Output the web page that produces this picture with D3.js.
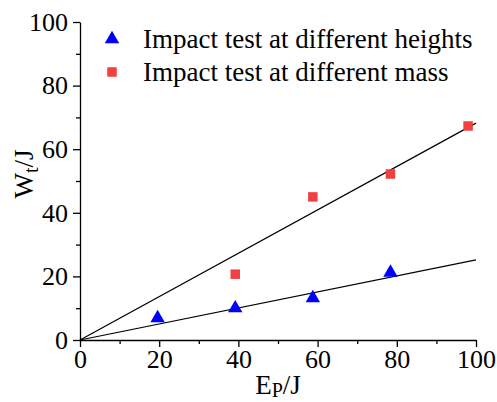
<!DOCTYPE html>
<html>
<head>
<meta charset="utf-8">
<script src="https://cdn.jsdelivr.net/npm/d3@7"></script>
<style>
  body { margin: 0; background: #fff; }
  text { font-family: "Liberation Serif", "Times New Roman", serif; }
</style>
</head>
<body>
<svg id="chart" width="497" height="402"></svg>
<script>
// potential energy Ep (J)
var epValues = [19.6, 39.2, 58.8, 78.4, 98];
var heightsWt = [6.9, 10.0, 13.2, 21.2];
var massWt = [20.7, 45.0, 52.2, 67.3];
var heightsSlope = 0.252;
var massSlope = 0.682;
var xTicks = [0, 20, 40, 60, 80, 100];
var yTicks = [0, 20, 40, 60, 80, 100];
var seriesNames = ["Impact test at different heights", "Impact test at different mass"];

var svg = d3.select("#chart");
var mLeft = 80, mRight = 476, mTop = 22, mBottom = 340;

var x = d3.scaleLinear().domain([0, 100]).range([mLeft, mRight]);
var y = d3.scaleLinear().domain([0, 100]).range([mBottom, mTop]);

// minor ticks
svg.append("g")
    .attr("transform", "translate(0," + mBottom + ")")
    .call(d3.axisBottom(x).tickValues(d3.range(10, 100, 20)).tickSize(4).tickFormat(""))
    .call(function(g) { g.select(".domain").remove(); });
svg.append("g")
    .attr("transform", "translate(" + mLeft + ",0)")
    .call(d3.axisLeft(y).tickValues(d3.range(10, 100, 20)).tickSize(4).tickFormat(""))
    .call(function(g) { g.select(".domain").remove(); });

svg.append("g")
    .attr("transform", "translate(0," + mBottom + ")")
    .call(d3.axisBottom(x).tickValues(xTicks).tickSize(7).tickSizeOuter(0).tickPadding(3));
svg.append("g")
    .attr("transform", "translate(" + mLeft + ",0)")
    .call(d3.axisLeft(y).tickValues(yTicks).tickSize(7).tickSizeOuter(0).tickPadding(5));

svg.selectAll(".tick line, .domain").attr("stroke", "#000").attr("stroke-width", 1.3);
svg.selectAll(".tick text")
    .attr("fill", "#000")
    .style("font-family", "'Liberation Serif', serif")
    .style("font-size", "26px");

// fit lines
var lines = [heightsSlope, massSlope];
svg.selectAll("line.fit")
    .data(lines)
    .enter().append("line")
    .attr("class", "fit")
    .attr("x1", x(0)).attr("y1", y(0))
    .attr("x2", x(100)).attr("y2", function(d) { return y(100 * d); })
    .attr("stroke", "#000")
    .attr("stroke-width", 1.2);

var tri = d3.symbol().type(d3.symbolTriangle).size(90);
var sq = d3.symbol().type(d3.symbolSquare).size(90);

svg.selectAll("path.hpt")
    .data(heightsWt)
    .enter().append("path")
    .attr("class", "hpt")
    .attr("d", tri)
    .attr("transform", function(d, i) { return "translate(" + x(epValues[i]) + "," + y(d) + ")"; })
    .attr("fill", "#0000ff");

svg.selectAll("path.mpt")
    .data(massWt)
    .enter().append("path")
    .attr("class", "mpt")
    .attr("d", sq)
    .attr("transform", function(d, i) { return "translate(" + x(epValues[i + 1]) + "," + y(d) + ")"; })
    .attr("fill", "#f04040");

// legend
var legend = svg.append("g");
legend.append("path").attr("d", tri).attr("transform", "translate(112,39)").attr("fill", "#0000ff");
legend.append("path").attr("d", sq).attr("transform", "translate(112,72)").attr("fill", "#f04040");
legend.selectAll("text")
    .data(seriesNames)
    .enter().append("text")
    .attr("x", 143)
    .attr("y", function(d, i) { return 48 + i * 33; })
    .style("font-size", "27px")
    .text(function(d) { return d; });

// axis titles
var xt = svg.append("text")
    .attr("x", (mLeft + mRight) / 2)
    .attr("y", 394)
    .attr("text-anchor", "middle")
    .style("font-size", "27px");
xt.append("tspan").text("E");
xt.append("tspan").attr("dy", 3).style("font-size", "20px").text("P");
xt.append("tspan").attr("dy", -3).text("/J");

var yt = svg.append("text")
    .attr("transform", "translate(33,174) rotate(-90)")
    .attr("text-anchor", "middle")
    .style("font-size", "27px");
yt.append("tspan").text("W");
yt.append("tspan").attr("dy", 5).style("font-size", "20px").text("t");
yt.append("tspan").attr("dy", -5).text("/J");
</script>
</body>
</html>
